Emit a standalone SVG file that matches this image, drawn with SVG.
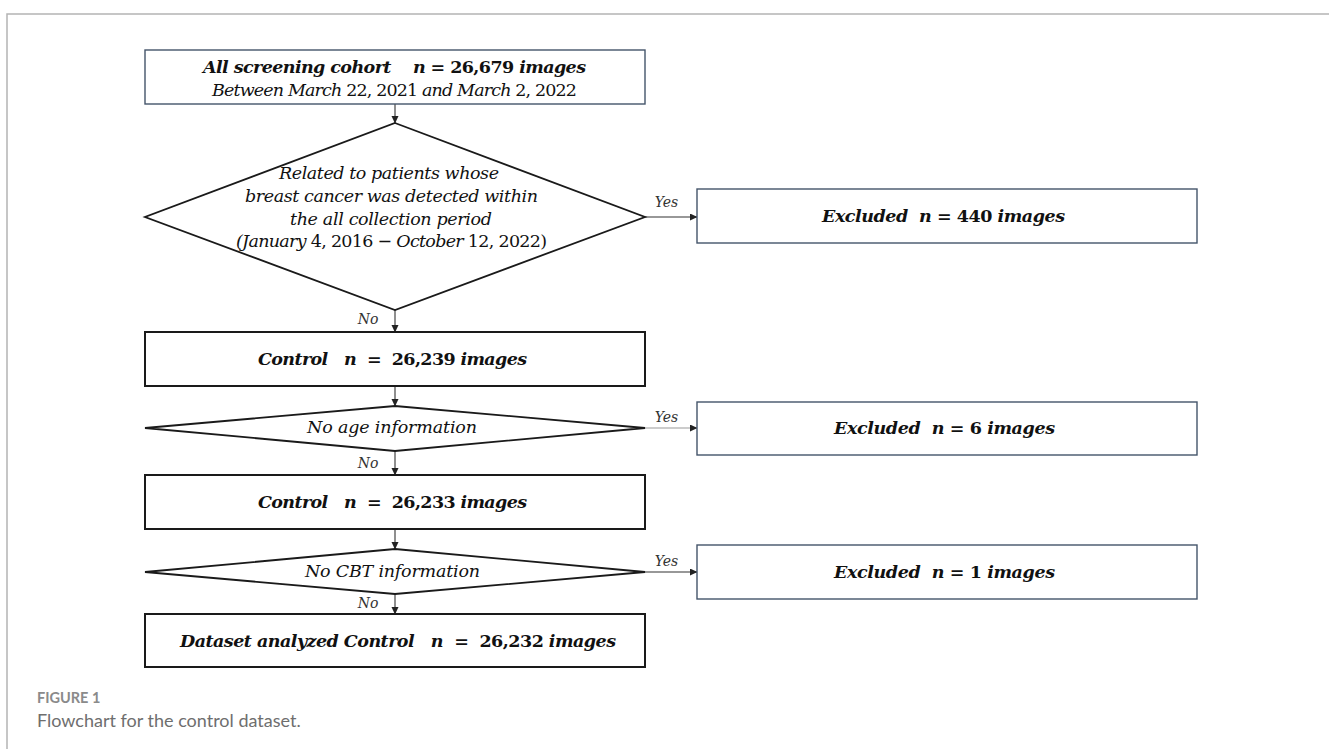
<svg xmlns="http://www.w3.org/2000/svg" width="1329" height="749" viewBox="0 0 1329 749">
<defs>
<marker id="ah" markerWidth="8" markerHeight="8" refX="7" refY="3.5" orient="auto" markerUnits="userSpaceOnUse">
<path d="M0,0 L7.5,3.5 L0,7 Z" fill="#222"/>
</marker>
</defs>
<style>
.frame{stroke:#b4b4b4;stroke-width:1.5;fill:none}
.bbox{fill:#fff;stroke:#44546a;stroke-width:1.4}
.kbox{fill:#fff;stroke:#1a1a1a;stroke-width:2}
.dia{fill:#fff;stroke:#1a1a1a;stroke-width:1.8}
.con{stroke:#333;stroke-width:1.1;fill:none}
.t{font-family:"DejaVu Serif","Liberation Serif",serif;font-size:17.5px;fill:#111;font-style:italic;text-anchor:middle}
.b{font-weight:bold}
.u{font-style:normal}
.lab{font-family:"DejaVu Serif","Liberation Serif",serif;font-size:14px;font-style:italic;fill:#333;text-anchor:middle}
.cap1{font-family:Lato,"Open Sans",sans-serif;font-size:14.5px;font-weight:bold;fill:#8a8a8a}
.cap2{font-family:Lato,"Open Sans",sans-serif;font-size:18px;fill:#6e6e6e}
</style>
<rect width="1329" height="749" fill="#fff"/>
<path class="frame" d="M7,749 L7,14 L1329,14"/>

<g id="connectors">
<line class="con" x1="395" y1="104" x2="395" y2="123" marker-end="url(#ah)"/>
<line class="con" x1="645" y1="217" x2="697" y2="217" marker-end="url(#ah)"/>
<line class="con" x1="395" y1="310" x2="395" y2="332" marker-end="url(#ah)"/>
<line class="con" x1="395" y1="386" x2="395" y2="406" marker-end="url(#ah)"/>
<line class="con" x1="645" y1="428" x2="697" y2="428" style="stroke:#999" marker-end="url(#ah)"/>
<line class="con" x1="395" y1="451" x2="395" y2="475" marker-end="url(#ah)"/>
<line class="con" x1="395" y1="529" x2="395" y2="549" marker-end="url(#ah)"/>
<line class="con" x1="645" y1="572" x2="697" y2="572" marker-end="url(#ah)"/>
<line class="con" x1="395" y1="594" x2="395" y2="614" marker-end="url(#ah)"/>
<text class="lab" x="666.5" y="207">Yes</text>
<text class="lab" x="666.5" y="422">Yes</text>
<text class="lab" x="666.5" y="566">Yes</text>
<text class="lab" x="368" y="324">No</text>
<text class="lab" x="368" y="468">No</text>
<text class="lab" x="368" y="608">No</text>
</g>

<g id="n-cohort">
<rect class="bbox" x="145" y="50" width="500" height="54"/>
<text class="t b" x="394.5" y="73" textLength="383" xml:space="preserve">All screening cohort    n <tspan class="u">= 26,679</tspan> images</text>
<text class="t" x="394.5" y="96" textLength="365">Between March <tspan class="u">22, 2021</tspan> and March <tspan class="u">2, 2022</tspan></text>
</g>

<g id="d-cancer">
<polygon class="dia" points="395,123 645,217 395,310 145,217"/>
<text class="t" x="389" y="179" textLength="220">Related to patients whose</text>
<text class="t" x="391.5" y="202" textLength="293">breast cancer was detected within</text>
<text class="t" x="391" y="225" textLength="202">the all collection period</text>
<text class="t" x="391.5" y="247" textLength="311">(January <tspan class="u">4, 2016 − </tspan>October <tspan class="u">12, 2022)</tspan></text>
</g>

<g id="n-excl440">
<rect class="bbox" x="697" y="189" width="500" height="54"/>
<text class="t b" x="943.5" y="222" textLength="243" xml:space="preserve">Excluded  n <tspan class="u">= 440</tspan> images</text>
</g>

<g id="n-control1">
<rect class="kbox" x="145" y="332" width="500" height="54"/>
<text class="t b" x="392.5" y="365" textLength="269" xml:space="preserve">Control   n  <tspan class="u">=  26,239</tspan> images</text>
</g>

<g id="d-age">
<polygon class="dia" points="395,406 645,428 395,451 145,428"/>
<text class="t" x="392" y="433" textLength="170">No age information</text>
</g>

<g id="n-excl6">
<rect class="bbox" x="697" y="402" width="500" height="53"/>
<text class="t b" x="944.5" y="434" textLength="221" xml:space="preserve">Excluded  n <tspan class="u">= 6</tspan> images</text>
</g>

<g id="n-control2">
<rect class="kbox" x="145" y="475" width="500" height="54"/>
<text class="t b" x="392.5" y="508" textLength="269" xml:space="preserve">Control   n  <tspan class="u">=  26,233</tspan> images</text>
</g>

<g id="d-cbt">
<polygon class="dia" points="395,549 645,572 395,594 145,572"/>
<text class="t" x="392.5" y="577" textLength="175">No CBT information</text>
</g>

<g id="n-excl1">
<rect class="bbox" x="697" y="545" width="500" height="54"/>
<text class="t b" x="944.5" y="578" textLength="221" xml:space="preserve">Excluded  n <tspan class="u">= 1</tspan> images</text>
</g>

<g id="n-dataset">
<rect class="kbox" x="145" y="614" width="500" height="53"/>
<text class="t b" x="398" y="647" textLength="436" xml:space="preserve">Dataset analyzed Control   n  <tspan class="u">=  26,232</tspan> images</text>
</g>

<g id="caption">
<text class="cap1" x="37" y="703">FIGURE 1</text>
<text class="cap2" x="37" y="727">Flowchart for the control dataset.</text>
</g>
</svg>
